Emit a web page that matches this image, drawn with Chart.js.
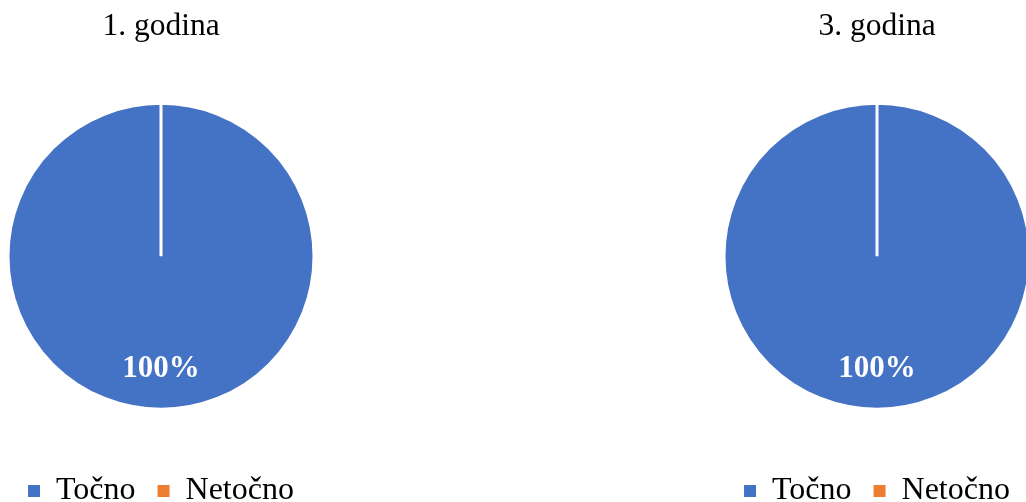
<!DOCTYPE html>
<html>
<head>
<meta charset="utf-8">
<script src="https://cdn.jsdelivr.net/npm/chart.js@4/dist/chart.umd.min.js"></script>
<style>
  html, body { margin: 0; padding: 0; background: #fff; overflow: hidden; width: 1026px; height: 502px; }
  .panel { position: absolute; top: 0; width: 322px; height: 517px; }
  #p1 { left: 0px; }
  #p3 { left: 716px; }
</style>
</head>
<body>
<div class="panel" id="p1"><canvas id="c1" width="322" height="517"></canvas></div>
<div class="panel" id="p3"><canvas id="c3" width="322" height="517"></canvas></div>
<script>
const categories = ["Točno", "Netočno"];
const values1 = [100, 0];
const values3 = [100, 0];
const titles = ["1. godina", "3. godina"];
const colors = ["#4472C4", "#ED7D31"];

const FONT = "'Liberation Serif', 'Times New Roman', serif";

const pctLabels = {
  id: 'pctLabels',
  afterDatasetsDraw(chart) {
    const ctx = chart.ctx;
    const ds = chart.data.datasets[0];
    const total = ds.data.reduce((a, b) => a + b, 0);
    const meta = chart.getDatasetMeta(0);
    ctx.save();
    ctx.fillStyle = '#ffffff';
    ctx.font = "bold 31px " + FONT;
    ctx.textAlign = 'center';
    ctx.textBaseline = 'middle';
    meta.data.forEach((arc, i) => {
      const v = ds.data[i];
      if (!v) return;
      const p = arc.getProps(['x', 'y', 'startAngle', 'endAngle', 'outerRadius'], true);
      const mid = (p.startAngle + p.endAngle) / 2;
      const r = p.outerRadius * 0.735;
      const pct = Math.round(v / total * 100) + '%';
      ctx.fillText(pct, p.x + Math.cos(mid) * r, p.y + Math.sin(mid) * r);
    });
    ctx.restore();
  }
};

function makeChart(id, title, values) {
  return new Chart(document.getElementById(id), {
    type: 'pie',
    data: {
      labels: categories,
      datasets: [{
        data: values,
        backgroundColor: colors,
        borderColor: '#ffffff',
        borderWidth: 3
      }]
    },
    options: {
      responsive: false,
      animation: false,
      radius: 153,
      layout: { padding: { top: 0, bottom: 0, left: 0, right: 0 } },
      plugins: {
        tooltip: { enabled: false },
        title: {
          display: true,
          text: title,
          color: '#000000',
          font: { family: FONT, size: 31.5, weight: 'normal' },
          padding: { top: 8, bottom: 13.7 }
        },
        legend: {
          position: 'bottom',
          labels: {
            color: '#000000',
            font: { family: FONT, size: 32 },
            boxWidth: 12,
            boxHeight: 12,
            padding: 22,
            generateLabels(chart) {
              const items = Chart.overrides.pie.plugins.legend.labels.generateLabels(chart);
              items.forEach(it => { it.lineWidth = 0; it.strokeStyle = 'rgba(0,0,0,0)'; });
              return items;
            }
          }
        }
      }
    },
    plugins: [pctLabels]
  });
}

makeChart('c1', titles[0], values1);
makeChart('c3', titles[1], values3);
</script>
</body>
</html>
